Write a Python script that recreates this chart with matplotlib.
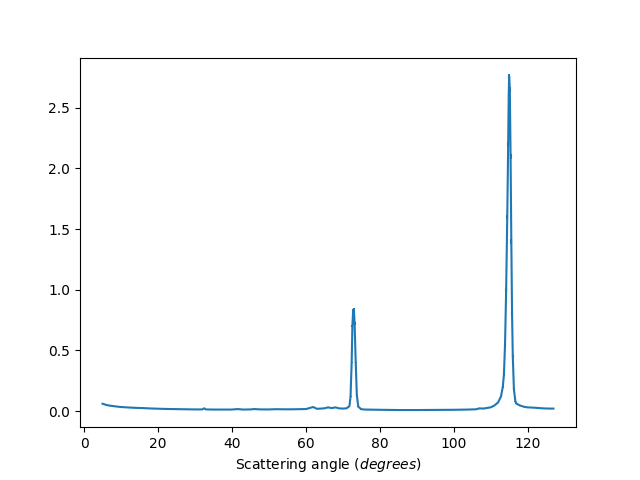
import matplotlib
matplotlib.use('Agg')
import matplotlib.pyplot as plt

# Scattering angle (degrees) and intensity
angle = [5, 6, 7, 8, 9, 10, 12, 14, 16, 18, 20, 22, 24, 26, 28, 30, 32,
         32.5, 33, 35, 38, 40, 41.5, 43, 45, 46, 48, 50, 52, 54, 56, 58,
         60, 62, 63, 64, 65, 66, 67, 68, 69, 70, 71, 71.8, 72.1, 72.4,
         72.6, 72.8, 73.0, 73.2, 73.5, 73.8, 74.2, 75, 76, 78, 80, 85, 90,
         95, 100, 104, 106, 107, 108, 109, 110, 111, 112, 112.8, 113.3,
         113.6, 113.9, 114.2, 114.5, 114.75, 114.9, 115.0, 115.2, 115.4,
         115.6, 115.8, 116.0, 116.3, 116.7, 117, 118, 119, 120, 122, 124,
         126, 127]
intensity = [0.060, 0.050, 0.044, 0.040, 0.036, 0.033, 0.029, 0.026, 0.024,
             0.021, 0.019, 0.017, 0.016, 0.015, 0.014, 0.013, 0.013,
             0.022, 0.013, 0.012, 0.012, 0.012, 0.016, 0.012, 0.013, 0.016,
             0.013, 0.013, 0.015, 0.014, 0.014, 0.015, 0.016, 0.033, 0.018,
             0.020, 0.022, 0.030, 0.024, 0.030, 0.022, 0.020, 0.022, 0.040,
             0.12, 0.40, 0.70, 0.83, 0.84, 0.72, 0.40, 0.13, 0.035, 0.015,
             0.012, 0.011, 0.010, 0.008, 0.008, 0.009, 0.010, 0.012, 0.014,
             0.022, 0.020, 0.025, 0.030, 0.045, 0.070, 0.12, 0.20, 0.30,
             0.55, 1.0, 1.6, 2.2, 2.6, 2.76, 2.65, 2.1, 1.4, 0.8, 0.45,
             0.18, 0.08, 0.060, 0.045, 0.035, 0.030, 0.027, 0.022, 0.020,
             0.020]
error = [0.003, 0.003, 0.003, 0.003, 0.003, 0.003, 0.003, 0.003, 0.003,
         0.003, 0.003, 0.003, 0.003, 0.003, 0.003, 0.003, 0.003,
         0.004, 0.003, 0.003, 0.003, 0.003, 0.003, 0.003, 0.003, 0.003,
         0.003, 0.003, 0.003, 0.003, 0.003, 0.003, 0.003, 0.004, 0.003,
         0.003, 0.003, 0.003, 0.003, 0.003, 0.003, 0.003, 0.003, 0.004,
         0.006, 0.008, 0.01, 0.01, 0.01, 0.01, 0.008, 0.006, 0.004, 0.003,
         0.003, 0.003, 0.003, 0.003, 0.003, 0.003, 0.003, 0.003, 0.003,
         0.003, 0.003, 0.003, 0.003, 0.004, 0.005, 0.006, 0.008, 0.01,
         0.012, 0.015, 0.02, 0.02, 0.02, 0.015, 0.02, 0.02, 0.02, 0.015,
         0.012, 0.008, 0.005, 0.004, 0.003, 0.003, 0.003, 0.003, 0.003,
         0.003, 0.003]

fig, ax = plt.subplots(figsize=(6.4, 4.8), dpi=100)
ax.errorbar(angle, intensity, yerr=error, color='tab:blue')
ax.set_xlabel('Scattering angle ($degrees$)')

plt.savefig('out.png')
